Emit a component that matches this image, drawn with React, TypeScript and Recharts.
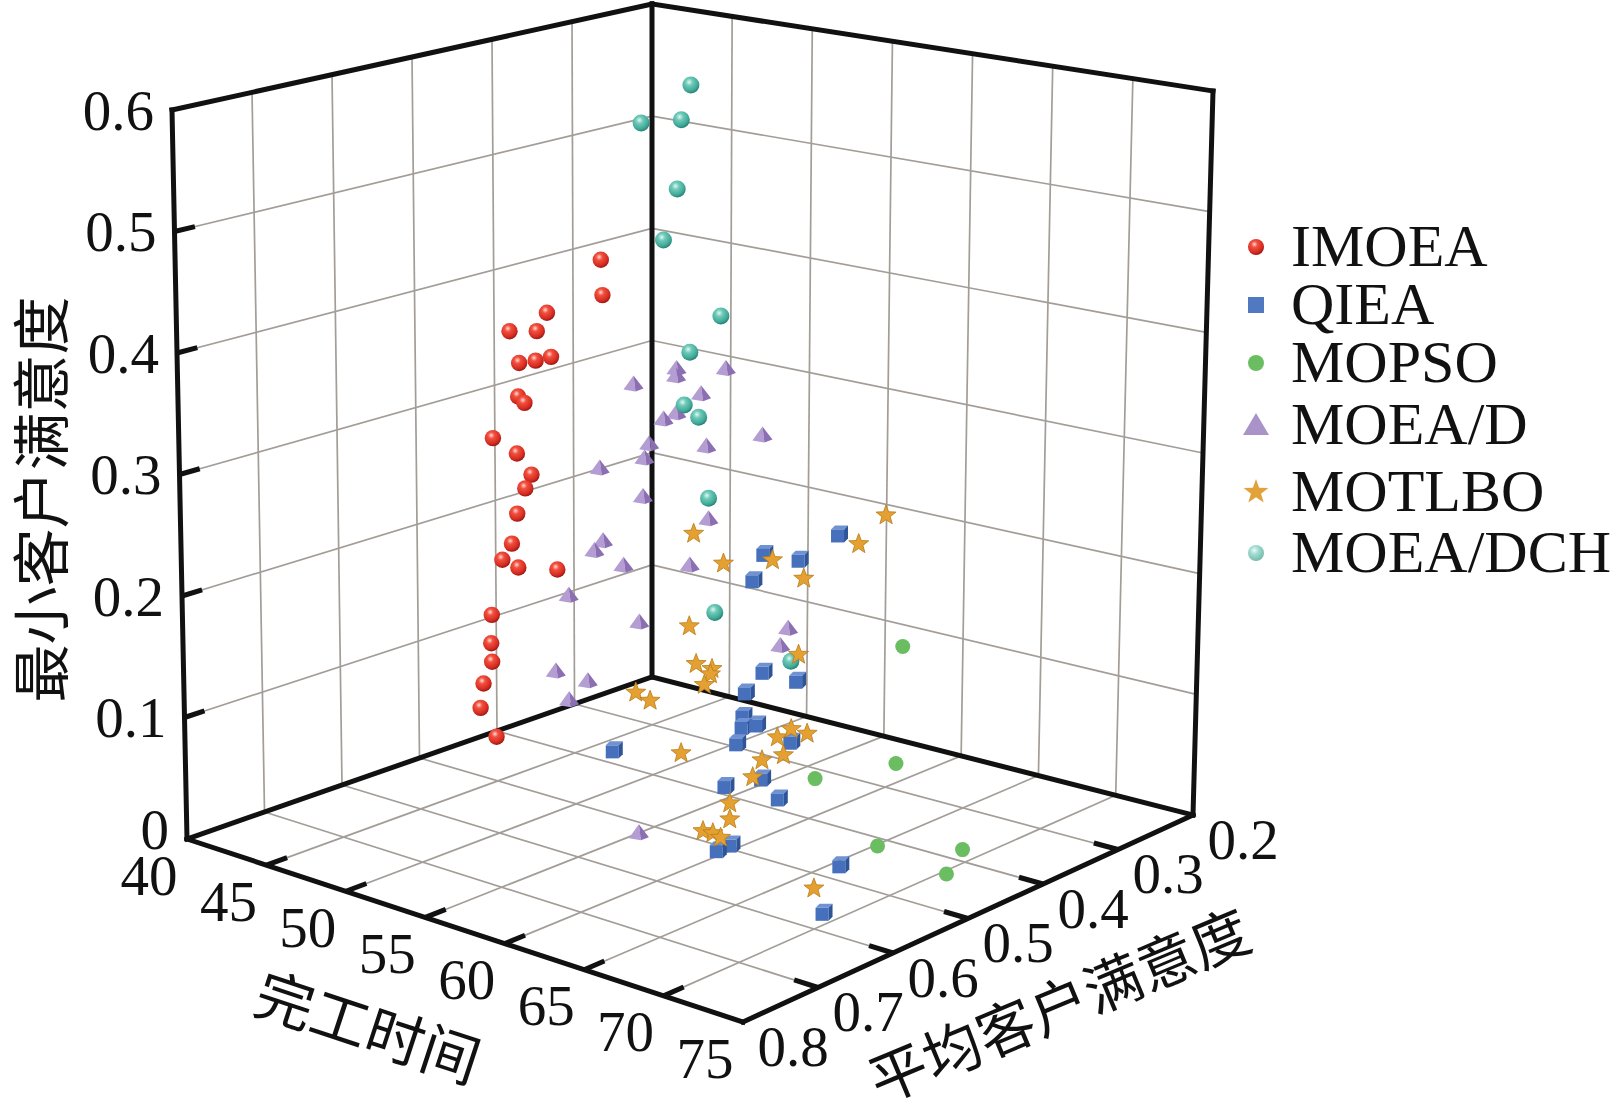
import React from 'react';
import { ScatterChart, Scatter, XAxis, YAxis, ReferenceLine, ReferenceDot, Legend } from 'recharts';

const CHART_W = 1623;
const CHART_H = 1116;

// ---- axes ----
const X_TICKS = [40, 45, 50, 55, 60, 65, 70, 75];
const Y_TICKS = [0.2, 0.3, 0.4, 0.5, 0.6, 0.7, 0.8];
const Z_TICKS = [0, 0.1, 0.2, 0.3, 0.4, 0.5, 0.6];
const X_TITLE = '完工时间';
const Y_TITLE = '平均客户满意度';
const Z_TITLE = '最小客户满意度';

// ---- data: [完工时间, 平均客户满意度, 最小客户满意度] ----
type P3 = [number, number, number];

const IMOEA: P3[] = [
  [50.5, 0.477, 0.453], [50.5, 0.475, 0.423], [48.8, 0.511, 0.41], [47.0, 0.522, 0.391],
  [48.8, 0.524, 0.397], [48.8, 0.506, 0.372], [47.0, 0.489, 0.36], [47.0, 0.51, 0.362],
  [45.3, 0.477, 0.322], [45.3, 0.469, 0.315], [43.5, 0.473, 0.28], [45.3, 0.479, 0.274],
  [47.0, 0.495, 0.265], [47.0, 0.503, 0.255], [45.3, 0.479, 0.223], [45.3, 0.486, 0.199],
  [43.5, 0.462, 0.174], [45.3, 0.478, 0.177], [48.8, 0.499, 0.192], [43.5, 0.476, 0.13],
  [43.5, 0.477, 0.106], [43.5, 0.476, 0.09], [41.8, 0.453, 0.06], [41.8, 0.457, 0.04],
  [43.5, 0.471, 0.025],
];

const QIEA: P3[] = [
  [61.0, 0.384, 0.236], [55.8, 0.374, 0.201], [57.5, 0.363, 0.199], [55.8, 0.388, 0.182],
  [57.5, 0.409, 0.116], [59.3, 0.402, 0.113], [55.8, 0.397, 0.09], [55.8, 0.4, 0.071],
  [55.8, 0.401, 0.062], [57.5, 0.417, 0.074], [55.8, 0.408, 0.05], [59.3, 0.409, 0.064],
  [48.8, 0.426, 0.023], [59.3, 0.447, 0.043], [57.5, 0.458, 0.033], [61.0, 0.46, 0.036],
  [61.0, 0.522, 0.014], [61.0, 0.54, 0.014], [66.3, 0.488, 0.008], [69.8, 0.583, 0.008],
];

const MOPSO: P3[] = [
  [64.5, 0.372, 0.151], [64.5, 0.379, 0.056], [59.3, 0.378, 0.025],
  [68.0, 0.475, 0.026], [71.5, 0.435, 0.025], [71.5, 0.456, 0.011],
];

const MOEAD: P3[] = [
  [48.8, 0.346, 0.33], [50.5, 0.381, 0.336], [52.3, 0.354, 0.342], [45.3, 0.33, 0.303],
  [50.5, 0.349, 0.314], [48.8, 0.346, 0.292], [47.0, 0.326, 0.277], [55.8, 0.378, 0.301],
  [45.3, 0.31, 0.247], [50.5, 0.342, 0.268], [45.3, 0.316, 0.236], [43.5, 0.337, 0.226],
  [45.3, 0.318, 0.203], [50.5, 0.339, 0.205], [43.5, 0.333, 0.162], [43.5, 0.344, 0.156],
  [45.3, 0.343, 0.149], [50.5, 0.363, 0.171], [41.8, 0.343, 0.111], [47.0, 0.357, 0.109],
  [59.3, 0.415, 0.159], [59.3, 0.425, 0.147], [43.5, 0.353, 0.045], [41.8, 0.343, 0.02],
  [55.8, 0.537, 0.007], [41.8, 0.36, 0.049],
];

const MOTLBO: P3[] = [
  [50.5, 0.358, 0.197], [52.3, 0.356, 0.177], [55.8, 0.364, 0.193], [62.8, 0.396, 0.236],
  [64.5, 0.396, 0.265], [59.3, 0.395, 0.196], [52.3, 0.4, 0.134], [59.3, 0.401, 0.134],
  [52.3, 0.391, 0.1], [54.0, 0.405, 0.105], [54.0, 0.407, 0.101], [54.0, 0.415, 0.094],
  [48.8, 0.398, 0.065], [50.5, 0.414, 0.068], [59.3, 0.428, 0.072], [61.0, 0.445, 0.089],
  [61.0, 0.424, 0.08], [61.0, 0.455, 0.07], [59.3, 0.448, 0.058], [54.0, 0.445, 0.044],
  [59.3, 0.46, 0.047], [59.3, 0.49, 0.033], [61.0, 0.525, 0.035], [59.3, 0.525, 0.019],
  [59.3, 0.512, 0.014], [61.0, 0.537, 0.023], [68.0, 0.559, 0.014],
];

const MOEADCH: P3[] = [
  [47.0, 0.292, 0.56], [43.5, 0.284, 0.517], [47.0, 0.304, 0.532], [47.0, 0.309, 0.473],
  [45.3, 0.292, 0.421], [50.5, 0.324, 0.376], [48.8, 0.329, 0.341], [48.8, 0.336, 0.297],
  [50.5, 0.352, 0.295], [50.5, 0.339, 0.223], [52.3, 0.367, 0.138], [57.5, 0.374, 0.116],
];

// ---- 3D box projection (screen corners of the axis box) ----
const FLOOR = { o: [652, 677], r: [1193, 815], l: [187, 839], f: [743, 1022] };
const TOP = { o: [652, 4], r: [1213, 91], l: [172, 110], f: [746, 238] };
const X0 = X_TICKS[0], X1 = X_TICKS[X_TICKS.length - 1];
const Y0 = Y_TICKS[0], Y1 = Y_TICKS[Y_TICKS.length - 1];
const Z0 = Z_TICKS[0], Z1 = Z_TICKS[Z_TICKS.length - 1];

function bil(c: any, u: number, v: number) {
  return [0, 1].map(
    (k) => c.o[k] * (1 - u) * (1 - v) + c.r[k] * u * (1 - v) + c.l[k] * (1 - u) * v + c.f[k] * u * v
  );
}
function proj(x: number, y: number, z: number) {
  const u = (x - X0) / (X1 - X0);
  const v = (y - Y0) / (Y1 - Y0);
  const w = (z - Z0) / (Z1 - Z0);
  const a = bil(FLOOR, u, v);
  const b = bil(TOP, u, v);
  return { x: a[0] + (b[0] - a[0]) * w, y: a[1] + (b[1] - a[1]) * w };
}
const toRows = (d: P3[]) => d.map((p, i) => { const s = proj(p[0], p[1], p[2]); return { sx: s.x, sy: s.y, t: p[0], avg: p[1], min: p[2], i }; });

// ---- styles ----
const SERIF = "'Liberation Serif', 'Times New Roman', serif";
const CJK = "'Noto Sans CJK SC', sans-serif";
const GRID = '#a39d98';
const FS = 57;

// ---- marker shapes ----
const starPts = (cx: number, cy: number, R: number, r: number) => {
  const pts: string[] = [];
  for (let i = 0; i < 10; i++) {
    const a = -Math.PI / 2 + (i * Math.PI) / 5;
    const rad = i % 2 === 0 ? R : r;
    pts.push(`${(cx + rad * Math.cos(a)).toFixed(2)},${(cy + rad * Math.sin(a)).toFixed(2)}`);
  }
  return pts.join(' ');
};

const SphereRed = (p: any) => <circle cx={p.cx} cy={p.cy} r={8.2} fill="url(#gRed)" />;
const SphereTeal = (p: any) => <circle cx={p.cx} cy={p.cy} r={8.5} fill="url(#gTeal)" />;
const Dot = (p: any) => <circle cx={p.cx} cy={p.cy} r={7.5} fill="#6bbd62" />;
const Cube = (p: any) => {
  const s = 13, t = 4;
  const x0 = p.cx - (s + t) / 2, y0 = p.cy - (s + t) / 2;
  return (
    <g>
      <polygon points={`${x0},${y0 + t} ${x0 + t},${y0} ${x0 + s + t},${y0} ${x0 + s},${y0 + t}`} fill="#6f93d2" />
      <rect x={x0} y={y0 + t} width={s} height={s} fill="#4670bb" />
      <polygon points={`${x0 + s},${y0 + t} ${x0 + s + t},${y0} ${x0 + s + t},${y0 + s} ${x0 + s},${y0 + s + t}`} fill="#2f5599" />
    </g>
  );
};
const Pyramid = (p: any) => {
  const { cx, cy } = p;
  return (
    <g>
      <polygon points={`${cx},${cy - 9} ${cx - 10},${cy + 5} ${cx + 2},${cy + 7}`} fill="#b39dd3" />
      <polygon points={`${cx},${cy - 9} ${cx + 2},${cy + 7} ${cx + 10},${cy + 4}`} fill="#8b6fb2" />
    </g>
  );
};
const Star = (p: any) => (
  <polygon points={starPts(p.cx, p.cy, 10.5, 4.4)} fill="#e4a030" stroke="#b87c18" strokeWidth={0.8} />
);

// ---- legend ----
const LEGEND_ITEMS = ['IMOEA', 'QIEA', 'MOPSO', 'MOEA/D', 'MOTLBO', 'MOEA/DCH'];
const LEGEND_ROW_Y = [52, 110, 168, 230, 297, 358];

const LegendMarker = ({ name, cx, cy }: { name: string; cx: number; cy: number }) => {
  switch (name) {
    case 'IMOEA':
      return <circle cx={cx} cy={cy} r={8} fill="url(#gRed)" />;
    case 'QIEA':
      return <rect x={cx - 8} y={cy - 8} width={16} height={16} fill="#5179c2" />;
    case 'MOPSO':
      return <circle cx={cx} cy={cy} r={8} fill="#6bbd62" />;
    case 'MOEA/D':
      return <polygon points={`${cx},${cy - 12} ${cx - 13},${cy + 10} ${cx + 13},${cy + 10}`} fill="#a993c9" />;
    case 'MOTLBO':
      return <polygon points={starPts(cx, cy, 13, 5.3)} fill="#e1a23a" />;
    default:
      return <circle cx={cx} cy={cy} r={8} fill="url(#gTealL)" />;
  }
};

const LegendContent = () => (
  <svg width={395} height={400} style={{ overflow: 'visible' }}>
    {LEGEND_ITEMS.map((name, i) => (
      <g key={name}>
        <LegendMarker name={name} cx={31} cy={LEGEND_ROW_Y[i]} />
        <text x={66} y={LEGEND_ROW_Y[i] + 19} fontFamily={SERIF} fontSize={60} fill="#111">
          {name}
        </text>
      </g>
    ))}
  </svg>
);

// ---- build grid / frame segments from tick arrays ----
type Seg = [{ x: number; y: number }, { x: number; y: number }];
const gridSegs: Seg[] = [];
X_TICKS.slice(1, -1).forEach((xt) => {
  gridSegs.push([proj(xt, Y0, Z0), proj(xt, Y1, Z0)]); // floor
  gridSegs.push([proj(xt, Y0, Z0), proj(xt, Y0, Z1)]); // right wall
});
Y_TICKS.slice(1, -1).forEach((yt) => {
  gridSegs.push([proj(X0, yt, Z0), proj(X1, yt, Z0)]); // floor
  gridSegs.push([proj(X0, yt, Z0), proj(X0, yt, Z1)]); // left wall
});
Z_TICKS.slice(1, -1).forEach((zt) => {
  gridSegs.push([proj(X0, Y0, zt), proj(X0, Y1, zt)]); // left wall
  gridSegs.push([proj(X0, Y0, zt), proj(X1, Y0, zt)]); // right wall
});

const frameSegs: Seg[] = [
  [proj(X0, Y1, Z0), proj(X0, Y1, Z1)],
  [proj(X0, Y1, Z1), proj(X0, Y0, Z1)],
  [proj(X0, Y0, Z1), proj(X1, Y0, Z1)],
  [proj(X1, Y0, Z1), proj(X1, Y0, Z0)],
  [proj(X0, Y0, Z0), proj(X0, Y0, Z1)],
  [proj(X0, Y1, Z0), proj(X1, Y1, Z0)],
  [proj(X1, Y1, Z0), proj(X1, Y0, Z0)],
  [proj(X0, Y0, Z0), proj(X0, Y1, Z0)],
  [proj(X0, Y0, Z0), proj(X1, Y0, Z0)],
];

const stub = (a: { x: number; y: number }, b: { x: number; y: number }, len: number): Seg => {
  const dx = b.x - a.x, dy = b.y - a.y;
  const n = Math.hypot(dx, dy) || 1;
  return [a, { x: a.x + (dx / n) * len, y: a.y + (dy / n) * len }];
};
const tickSegs: Seg[] = [
  ...Z_TICKS.slice(1, -1).map((zt) => stub(proj(X0, Y1, zt), proj(X0, Y0, zt), 21)),
  ...X_TICKS.slice(1, -1).map((xt) => stub(proj(xt, Y1, Z0), proj(xt, Y0, Z0), 22)),
  ...Y_TICKS.slice(1, -1).map((yt) => stub(proj(X1, yt, Z0), proj(X0, yt, Z0), 25)),
];

type Lbl = { x: number; y: number; text: string; anchor: string; rot?: number; font: string; size: number };
const labels: Lbl[] = [
  ...Z_TICKS.map((zt) => { const p = proj(X0, Y1, zt); return { x: p.x - 18, y: p.y - (zt === Z0 ? 10 : 0), text: String(zt), anchor: 'end', font: SERIF, size: FS }; }),
  ...X_TICKS.map((xt) => { const p = proj(xt, Y1, Z0); return { x: p.x - 38, y: p.y + 36, text: String(xt), anchor: 'middle', font: SERIF, size: FS }; }),
  ...Y_TICKS.map((yt) => { const p = proj(X1, yt, Z0); return { x: p.x + 50, y: p.y + 24, text: String(yt), anchor: 'middle', font: SERIF, size: FS }; }),
];
const titleX = (() => { const a = proj(X0, Y1, Z0), b = proj(X1, Y1, Z0); return { x: (a.x + b.x) / 2 - 96, y: (a.y + b.y) / 2 + 94, rot: (Math.atan2(b.y - a.y, b.x - a.x) * 180) / Math.PI }; })();
const titleY = (() => { const a = proj(X1, Y1, Z0), b = proj(X1, Y0, Z0); return { x: (a.x + b.x) / 2 + 90, y: (a.y + b.y) / 2 + 84, rot: (Math.atan2(b.y - a.y, b.x - a.x) * 180) / Math.PI + 2 }; })();
const titleZ = (() => { const a = proj(X0, Y1, Z0), b = proj(X0, Y1, Z1); return { x: 38, y: (a.y + b.y) / 2 + 25, rot: -90 }; })();
labels.push({ x: titleX.x, y: titleX.y, text: X_TITLE, anchor: 'middle', rot: titleX.rot, font: CJK, size: 58 });
labels.push({ x: titleY.x, y: titleY.y, text: Y_TITLE, anchor: 'middle', rot: titleY.rot, font: CJK, size: 58 });
labels.push({ x: titleZ.x, y: titleZ.y, text: Z_TITLE, anchor: 'middle', rot: titleZ.rot, font: CJK, size: 58 });

export default function App() {
  return (
    <div style={{ position: 'absolute', left: 0, top: 0, width: CHART_W, height: CHART_H, background: '#fff' }}>
      <svg width={0} height={0} style={{ position: 'absolute' }}>
        <defs>
          <radialGradient id="gRed" cx="0.4" cy="0.33" r="0.7">
            <stop offset="0" stopColor="#ffd9d2" />
            <stop offset="0.28" stopColor="#f2503f" />
            <stop offset="0.75" stopColor="#d42a20" />
            <stop offset="1" stopColor="#8e1410" />
          </radialGradient>
          <radialGradient id="gTeal" cx="0.4" cy="0.33" r="0.7">
            <stop offset="0" stopColor="#e2f7f2" />
            <stop offset="0.3" stopColor="#6fcab9" />
            <stop offset="0.75" stopColor="#3fa897" />
            <stop offset="1" stopColor="#22786a" />
          </radialGradient>
          <radialGradient id="gTealL" cx="0.4" cy="0.33" r="0.7">
            <stop offset="0" stopColor="#eefaf7" />
            <stop offset="0.35" stopColor="#a6ddd2" />
            <stop offset="1" stopColor="#6fb8aa" />
          </radialGradient>
        </defs>
      </svg>
      <ScatterChart width={CHART_W} height={CHART_H} margin={{ top: 0, right: 0, bottom: 0, left: 0 }}>
        <XAxis type="number" dataKey="sx" domain={[0, CHART_W]} hide allowDataOverflow />
        <YAxis type="number" dataKey="sy" domain={[0, CHART_H]} reversed hide allowDataOverflow />
        {gridSegs.map((s, i) => (
          <ReferenceLine key={`g${i}`} segment={s} stroke={GRID} strokeWidth={1.7} ifOverflow="visible" />
        ))}
        {frameSegs.map((s, i) => (
          <ReferenceLine key={`f${i}`} segment={s} stroke="#111" strokeWidth={5} strokeLinecap="square" ifOverflow="visible" />
        ))}
        {tickSegs.map((s, i) => (
          <ReferenceLine key={`t${i}`} segment={s} stroke="#111" strokeWidth={5} ifOverflow="visible" />
        ))}
        {labels.map((l, i) => (
          <ReferenceDot
            key={`l${i}`}
            x={l.x}
            y={l.y}
            r={0}
            ifOverflow="visible"
            shape={(p: any) => (
              <text
                x={p.cx}
                y={p.cy}
                textAnchor={l.anchor as any}
                dominantBaseline="central"
                fontFamily={l.font}
                fontSize={l.size}
                fill="#111"
                transform={l.rot !== undefined ? `rotate(${l.rot} ${p.cx} ${p.cy})` : undefined}
              >
                {l.text}
              </text>
            )}
          />
        ))}
        <Scatter name="MOEA/D" data={toRows(MOEAD)} shape={Pyramid} isAnimationActive={false} />
        <Scatter name="IMOEA" data={toRows(IMOEA)} shape={SphereRed} isAnimationActive={false} />
        <Scatter name="MOPSO" data={toRows(MOPSO)} shape={Dot} isAnimationActive={false} />
        <Scatter name="QIEA" data={toRows(QIEA)} shape={Cube} isAnimationActive={false} />
        <Scatter name="MOEA/DCH" data={toRows(MOEADCH)} shape={SphereTeal} isAnimationActive={false} />
        <Scatter name="MOTLBO" data={toRows(MOTLBO)} shape={Star} isAnimationActive={false} />
        <Legend
          layout="vertical"
          align="center"
          verticalAlign="middle"
          content={() => <LegendContent />}
          wrapperStyle={{ left: 1225, top: 195, width: 395, height: 400 }}
        />
      </ScatterChart>
    </div>
  );
}
